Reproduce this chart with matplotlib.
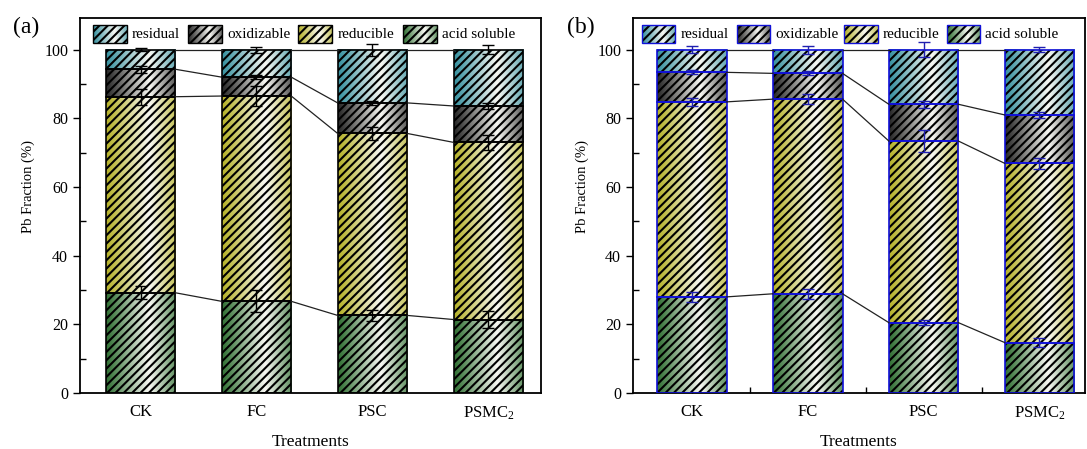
import matplotlib
matplotlib.use('Agg')
import matplotlib.pyplot as plt
import numpy as np
from matplotlib.patches import Rectangle
from matplotlib.colors import to_rgb

plt.rcParams['font.family'] = 'Liberation Serif'
plt.rcParams['mathtext.fontset'] = 'custom'
plt.rcParams['mathtext.rm'] = 'Liberation Serif'
plt.rcParams['mathtext.it'] = 'Liberation Serif:italic'
plt.rcParams['hatch.linewidth'] = 1.5

treatments = ['CK', 'FC', 'PSC', 'PSMC$_2$']
fractions = ['acid soluble', 'reducible', 'oxidizable', 'residual']
colors = ['#2f6f32', '#b5b126', '#252525', '#35909f']

# panel (a), % of total Pb, bottom to top
a_acid = [29.2, 26.7, 22.6, 21.4]
a_red = [57.1, 59.8, 53.0, 51.6]
a_oxi = [8.0, 5.5, 8.9, 10.6]
a_res = [5.7, 8.0, 15.5, 16.4]
a_err_acid = [1.9, 3.2, 1.65, 2.4]
a_err_red = [2.3, 2.8, 1.8, 2.1]
a_err_oxi = [1.05, 0.6, 0.5, 1.0]
a_err_res = [0.4, 0.9, 1.7, 1.25]

# panel (b)
b_acid = [28.0, 28.9, 20.5, 14.7]
b_red = [56.8, 56.7, 52.9, 52.2]
b_oxi = [8.6, 7.5, 10.7, 14.1]
b_res = [6.6, 6.9, 15.9, 19.0]
b_err_acid = [1.55, 1.45, 0.8, 1.4]
b_err_red = [1.1, 1.55, 3.3, 1.6]
b_err_oxi = [0.6, 0.6, 1.05, 0.9]
b_err_res = [1.0, 1.2, 2.2, 0.7]


def gradient(c):
    c = np.array(to_rgb(c))
    w = np.array([0.97, 0.97, 0.95])
    t = np.linspace(0, 1, 256)[:, None]
    left = c + (w - c) * (t / 0.62)
    right = w + (c * 0.75 + w * 0.25 - w) * ((t - 0.62) / 0.38)
    g = np.where(t < 0.62, left, right)
    return g[None, :, :]


def fill_box(ax, x0, y0, w, h, c, edge, transform=None, lw=1.2, clip=True):
    tr = transform if transform is not None else ax.transData
    im = ax.imshow(gradient(c), extent=(x0, x0 + w, y0, y0 + h), aspect='auto',
                   interpolation='bilinear', transform=tr, zorder=2)
    if not clip:
        im.set_clip_on(False)
    ax.add_patch(Rectangle((x0, y0), w, h, facecolor='none', edgecolor='black',
                           hatch='////', lw=0, transform=tr, zorder=3, clip_on=clip))
    ax.add_patch(Rectangle((x0, y0), w, h, facecolor='none', edgecolor=edge,
                           lw=lw, transform=tr, zorder=4, clip_on=clip))


def panel(ax, data, errs, edge, errc, xlim, leg_x, tag, minor_x):
    x = np.arange(1, len(treatments) + 1)
    width = 0.6
    data = np.array(data)
    tops = np.cumsum(data, axis=0)
    bottoms = tops - data
    for k in range(len(fractions)):
        for i in range(len(x)):
            fill_box(ax, x[i] - width / 2, bottoms[k, i], width, data[k, i], colors[k], edge)
    for k in range(len(fractions)):
        for i in range(len(x) - 1):
            ax.plot([x[i] + width / 2, x[i + 1] - width / 2], [tops[k, i], tops[k, i + 1]],
                    color='#222222', lw=0.9, zorder=5)
        ax.errorbar(x, tops[k], yerr=errs[k], fmt='none', ecolor=errc, elinewidth=1.0,
                    capsize=4, capthick=1.0, zorder=6)
    ax.set_xlim(*xlim)
    ax.set_ylim(0, 109.2)
    ax.set_xticks(x)
    ax.set_xticklabels(treatments, fontsize=12)
    if minor_x:
        ax.set_xticks(x[:-1] + 0.5, minor=True)
    ax.set_yticks([0, 20, 40, 60, 80, 100])
    ax.set_yticks([10, 30, 50, 70, 90], minor=True)
    ax.tick_params(axis='y', which='major', direction='out', length=5, width=1, labelsize=11.5)
    ax.tick_params(axis='y', which='minor', direction='in', length=4, width=1)
    ax.tick_params(axis='x', which='major', direction='in', length=6, width=1, pad=8)
    ax.tick_params(axis='x', which='minor', direction='in', length=4, width=1)
    for s in ax.spines.values():
        s.set_linewidth(1.3)
    ax.set_ylabel('Pb Fraction (%)', fontsize=10.5)
    ax.yaxis.set_label_coords(-0.098, 0.55)
    ax.set_xlabel('Treatments', fontsize=12.5)
    ax.xaxis.set_label_coords(0.5, -0.108)
    # legend drawn by hand so the keys carry the gradient fill
    order = [3, 2, 1, 0]
    for j, k in enumerate(order):
        fill_box(ax, leg_x[j], 0.933, 0.074, 0.048, colors[k], edge,
                 transform=ax.transAxes, lw=1.0)
        ax.text(leg_x[j] + 0.085, 0.957, fractions[k], transform=ax.transAxes,
                fontsize=11, va='center', ha='left')
    ax.text(-0.145, 0.975, tag, transform=ax.transAxes, fontsize=17, va='center', ha='left')


fig = plt.figure(figsize=(10.87, 4.49), dpi=100)
ax1 = fig.add_axes([0.0736, 0.1247, 0.424, 0.835])
ax2 = fig.add_axes([0.5823, 0.1247, 0.4155, 0.835])

panel(ax1, [a_acid, a_red, a_oxi, a_res], [a_err_acid, a_err_red, a_err_oxi, a_err_res],
      'black', 'black', (0.478, 4.453), [0.028, 0.234, 0.473, 0.70], '(a)', False)
panel(ax2, [b_acid, b_red, b_oxi, b_res], [b_err_acid, b_err_red, b_err_oxi, b_err_res],
      '#1010d8', '#2020b0', (0.491, 4.39), [0.02, 0.23, 0.468, 0.695], '(b)', True)

fig.savefig('out.png', dpi=100)
